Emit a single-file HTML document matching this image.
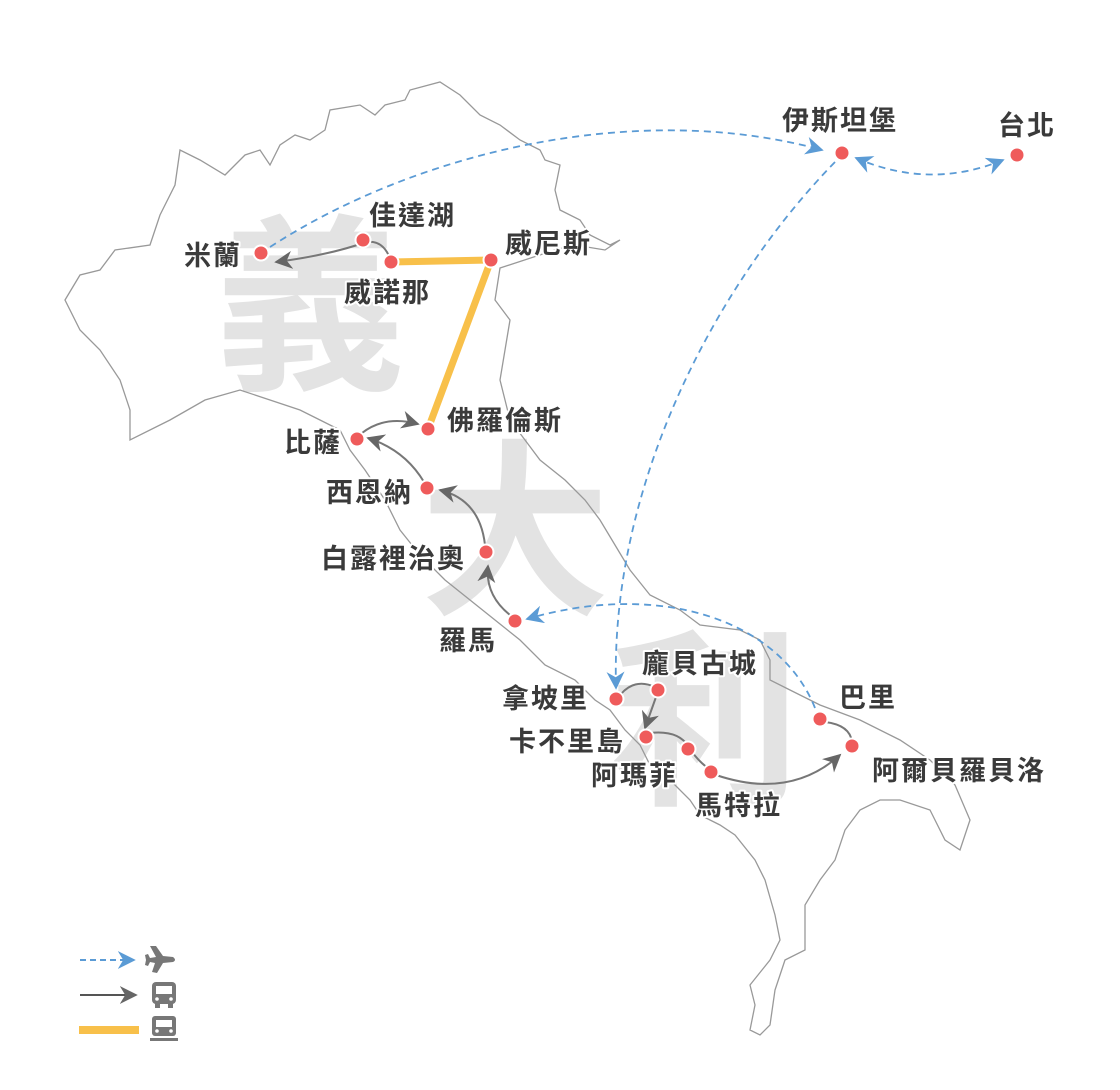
<!DOCTYPE html>
<html><head><meta charset="utf-8"><style>
html,body{margin:0;padding:0;background:#fff;}
svg{display:block;}
.lb{font-family:"Liberation Sans","Noto Sans CJK TC",sans-serif;font-size:27px;font-weight:bold;fill:#3a3a3a;letter-spacing:2px;paint-order:stroke;stroke:#fff;stroke-width:4px;stroke-linejoin:round;}
.wm{font-family:"Noto Sans CJK TC",sans-serif;font-size:190px;font-weight:bold;fill:#e3e3e3;}
</style></head><body>
<svg width="1120" height="1090" viewBox="0 0 1120 1090" xmlns="http://www.w3.org/2000/svg">
<defs>
<marker id="ab" viewBox="0 0 10 10" refX="9" refY="5" markerWidth="9" markerHeight="9" orient="auto-start-reverse" markerUnits="userSpaceOnUse"><path d="M0,0 L10,5 L0,10 L3,5z" fill="#5b9bd5"/></marker>
<marker id="abb" viewBox="0 0 10 10" refX="9" refY="5" markerWidth="18" markerHeight="18" orient="auto-start-reverse" markerUnits="userSpaceOnUse"><path d="M0,0 L10,5 L0,10 L3,5z" fill="#5b9bd5"/></marker>
<marker id="ag" viewBox="0 0 10 10" refX="9" refY="5" markerWidth="18" markerHeight="18" orient="auto-start-reverse" markerUnits="userSpaceOnUse"><path d="M0,0 L10,5 L0,10 L3,5z" fill="#666"/></marker>
</defs>
<text class="wm" x="215" y="375">義</text>
<text class="wm" x="420" y="600">大</text>
<text class="wm" x="610" y="790">利</text>
<path d="M65,300 L80,275 L100,270 L115,250 L150,245 L160,215 L175,185 L180,150 L200,160 L225,175 L245,155 L260,150 L270,165 L280,145 L295,135 L310,140 L325,130 L330,110 L360,105 L375,115 L385,105 L405,100 L410,90 L440,82 L460,95 L480,115 L500,125 L520,140 L540,150 L545,160 L560,165 L555,190 L560,210 L580,220 L590,235 L610,245 L620,240 L605,250 L575,245 L555,250 L500,268 L495,300 L510,320 L505,350 L500,380 L510,420 L525,440 L540,460 L565,480 L585,500 L600,520 L615,545 L630,570 L650,595 L680,610 L700,625 L740,630 L760,640 L770,660 L770,680 L790,690 L820,705 L860,720 L900,740 L930,760 L955,785 L970,820 L960,850 L945,840 L930,810 L900,800 L880,800 L860,810 L845,830 L835,860 L820,880 L805,905 L805,950 L785,960 L775,990 L770,1025 L760,1035 L750,1030 L755,1005 L750,985 L770,960 L780,940 L775,915 L765,880 L755,860 L735,835 L720,825 L700,815 L690,800 L665,775 L650,765 L640,745 L625,730 L610,710 L595,700 L575,680 L545,665 L520,640 L495,620 L470,600 L445,580 L420,555 L400,530 L385,500 L365,470 L350,450 L340,430 L320,420 L300,410 L270,400 L240,390 L205,400 L170,420 L130,440 L130,410 L120,380 L100,350 L80,330 Z" fill="none" stroke="#999" stroke-width="1.3"/>
<g fill="none" stroke="#5b9bd5" stroke-width="1.8" stroke-dasharray="7,5">
<path d="M270,247 C420,150 640,100 822,150" marker-end="url(#abb)"/>
<path d="M835,162 C720,280 610,480 616,688" marker-end="url(#abb)"/>
<path d="M856,158 Q930,190 1003,160" marker-start="url(#abb)" marker-end="url(#abb)"/>
<path d="M815,708 C780,620 660,580 527,619" marker-end="url(#abb)"/>
</g>
<path d="M391,262 L491,260 L428,429" fill="none" stroke="#f8c04a" stroke-width="7" stroke-linejoin="round"/>
<g fill="none" stroke="#777" stroke-width="2">
<path d="M389,256 Q382,240 366,242 Q330,255 276,262" marker-end="url(#ag)"/>
<path d="M362,433 Q385,415 418,424" marker-end="url(#ag)"/>
<path d="M424,482 Q405,450 368,438" marker-end="url(#ag)"/>
<path d="M485,545 Q480,500 440,490" marker-end="url(#ag)"/>
<path d="M510,615 Q485,595 488,566" marker-end="url(#ag)"/>
<path d="M621,694 Q635,678 655,687"/>
<path d="M656,697 L645,728" marker-end="url(#ag)"/>
<path d="M650,733 Q678,730 688,746 Q698,762 712,771"/>
<path d="M716,775 Q790,800 840,755" marker-end="url(#ag)"/>
<path d="M825,722 Q850,725 852,742"/>
</g>
<g fill="#ef5b5b" stroke="#fff" stroke-width="2">
<circle cx="842" cy="153" r="7.5"/><circle cx="1017" cy="155" r="7.5"/>
<circle cx="261" cy="253" r="7.5"/><circle cx="363" cy="240" r="7.5"/>
<circle cx="391" cy="262" r="7.5"/><circle cx="491" cy="260" r="7.5"/>
<circle cx="428" cy="429" r="7.5"/><circle cx="357" cy="439" r="7.5"/>
<circle cx="427" cy="488" r="7.5"/><circle cx="486" cy="552" r="7.5"/>
<circle cx="515" cy="621" r="7.5"/><circle cx="616" cy="699" r="7.5"/>
<circle cx="658" cy="690" r="7.5"/><circle cx="646" cy="737" r="7.5"/>
<circle cx="688" cy="749" r="7.5"/><circle cx="711" cy="772" r="7.5"/>
<circle cx="820" cy="719" r="7.5"/><circle cx="852" cy="746" r="7.5"/>
</g>
<g class="lb">
<text x="782" y="130">伊斯坦堡</text>
<text x="998" y="135">台北</text>
<text x="184" y="265">米蘭</text>
<text x="369" y="225">佳達湖</text>
<text x="344" y="302">威諾那</text>
<text x="505" y="253">威尼斯</text>
<text x="447" y="430">佛羅倫斯</text>
<text x="284" y="452">比薩</text>
<text x="326" y="502">西恩納</text>
<text x="321" y="568">白露裡治奧</text>
<text x="439" y="650">羅馬</text>
<text x="642" y="673">龐貝古城</text>
<text x="502" y="708">拿坡里</text>
<text x="509" y="751">卡不里島</text>
<text x="591" y="785">阿瑪菲</text>
<text x="695" y="815">馬特拉</text>
<text x="839" y="707">巴里</text>
<text x="872" y="780">阿爾貝羅貝洛</text>
</g>
<path d="M80,960 L134,960" stroke="#5b9bd5" stroke-width="2" stroke-dasharray="6,4" marker-end="url(#abb)"/>
<path d="M80,995 L136,995" stroke="#555" stroke-width="2" marker-end="url(#ag)"/>
<rect x="79" y="1026" width="60" height="8" fill="#f8c04a"/>
<g fill="#777">
<path d="M150,946 L156,946 L163,956 L173,957 Q177,960 173,962 L163,963 L157,973 L152,972 L155,963 L150,962 L148,966 L145,965 L146,960 L145,955 L148,954 L150,958 L156,957 Z"/>
<rect x="152" y="982" width="24" height="22" rx="4"/>
<rect x="155" y="1003" width="5" height="5"/><rect x="168" y="1003" width="5" height="5"/>
<rect x="152" y="1016" width="24" height="20" rx="3"/>
<rect x="150" y="1038" width="28" height="3"/>
</g>
<g fill="#fff"><rect x="156" y="986" width="16" height="8"/><rect x="156" y="1020" width="16" height="7"/><circle cx="157" cy="999" r="1.8"/><circle cx="171" cy="999" r="1.8"/><circle cx="157" cy="1031" r="1.8"/><circle cx="171" cy="1031" r="1.8"/></g>
</svg>
</body></html>
